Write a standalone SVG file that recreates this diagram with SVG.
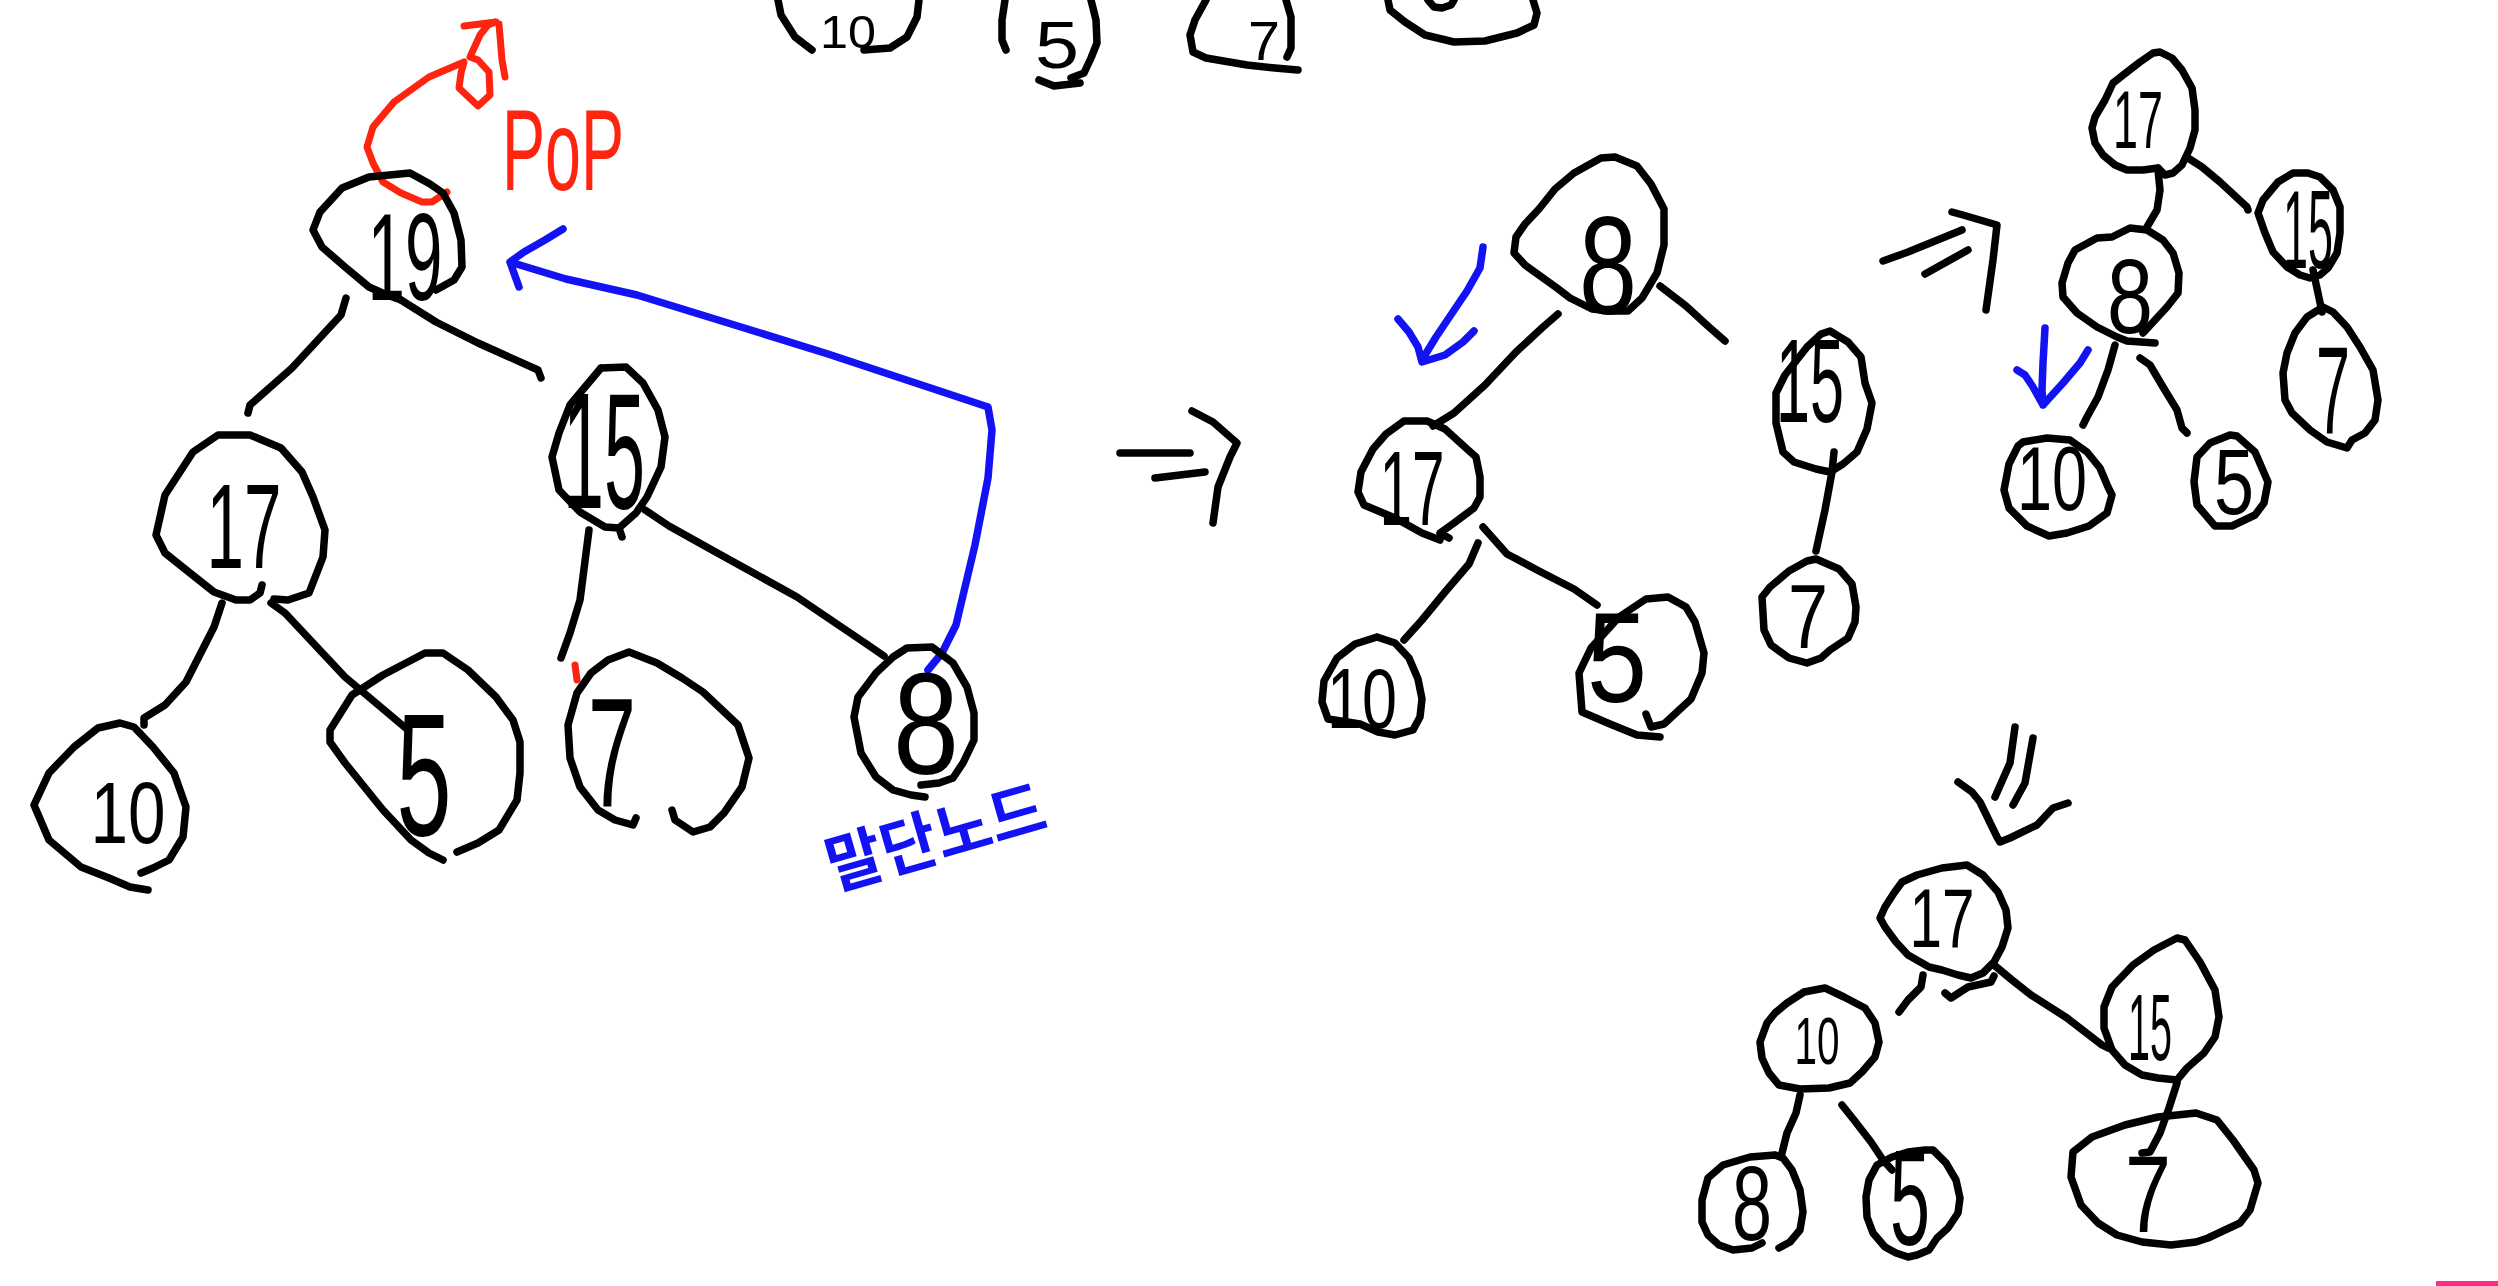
<svg xmlns="http://www.w3.org/2000/svg" width="2498" height="1286" viewBox="0 0 2498 1286">
<style>
.k{fill:none;stroke:#000;stroke-width:7.5;stroke-linecap:round;stroke-linejoin:round}
.b{fill:none;stroke:#1212f5;stroke-width:7.5;stroke-linecap:round;stroke-linejoin:round}
.r{fill:none;stroke:#ff2410;stroke-width:7;stroke-linecap:round;stroke-linejoin:round}
.t{font-family:"Liberation Sans","DejaVu Sans",sans-serif;fill:#000;text-anchor:middle}
</style>
<rect width="2498" height="1286" fill="#fff"/>
<!-- top partial nodes -->
<g id="top-10"><path class="k" d="M778,0 L781,15 L795,37 L812,50 M919,0 L917,17 L907,37 L890,48 L864,50"/><text class="t" x="848" y="48" font-size="46" textLength="56" lengthAdjust="spacingAndGlyphs">10</text></g>
<g id="top-5"><path class="k" d="M1005,0 L1002,20 L1002,40 L1006,50 M1091,0 L1096,20 L1097,43 L1091,58 L1084,73 L1071,78 M1039,80 L1054,86 L1080,83"/><text class="t" x="1057" y="68" font-size="66" textLength="44" lengthAdjust="spacingAndGlyphs">5</text></g>
<g id="top-7"><path class="k" d="M1206,0 L1195,20 L1190,35 L1193,52 L1206,58 L1247,65 L1275,68 L1298,70 M1286,0 L1291,17 L1291,48 L1287,57"/><text class="t" x="1264" y="60" font-size="56" textLength="32" lengthAdjust="spacingAndGlyphs">7</text></g>
<g id="top-4"><path class="k" d="M1388,0 L1390,10 L1405,22 L1425,35 L1454,42 L1485,41 L1517,33 L1534,25 L1537,13 L1533,0 M1428,0 L1434,7 L1442,8 L1451,5 L1454,0"/></g>

<!-- connectors -->
<g id="connectors">
<path class="k" d="M401,300 L436,322 L478,343 L538,370 L541,378"/>
<path class="k" d="M346,298 L341,315 L292,368 L250,405 L248,413"/>
<path class="k" d="M222,603 L214,627 L186,682 L165,705 L144,718 L144,725"/>
<path class="k" d="M271,603 L285,613 L345,677 L408,730"/>
<path class="k" d="M645,510 L669,526 L712,550 L797,597 L868,645 L884,656"/>
<path class="k" d="M589,530 L580,600 L570,633 L561,658"/>
<path class="k" d="M1558,314 L1543,327 L1516,352 L1485,385 L1454,413 L1433,426"/>
<path class="k" d="M1660,286 L1686,306 L1709,327 L1725,341"/>
<path class="k" d="M1478,543 L1469,564 L1445,592 L1422,620 L1404,640"/>
<path class="k" d="M1483,527 L1507,554 L1539,571 L1574,589 L1597,605"/>
<path class="k" d="M1834,452 L1832,472 L1825,510 L1816,551"/>
<path class="k" d="M2158,170 L2160,190 L2157,210 L2147,227"/>
<path class="k" d="M2188,158 L2202,167 L2220,182 L2247,207 L2248,210"/>
<path class="k" d="M2115,345 L2108,370 L2098,397 L2087,417 L2083,425"/>
<path class="k" d="M2140,358 L2150,365 L2163,387 L2177,410 L2182,428 L2187,433"/>
<path class="k" d="M2313,270 L2318,293 L2322,312"/>
<path class="k" d="M1923,975 L1921,987 L1908,1000 L1899,1012"/>
<path class="k" d="M1994,965 L2012,980 L2031,995 L2067,1018 L2102,1045 L2108,1048"/>
<path class="k" d="M1800,1095 L1796,1113 L1787,1133 L1782,1153"/>
<path class="k" d="M1842,1105 L1854,1120 L1871,1142 L1883,1160 L1892,1170"/>
<path class="k" d="M2177,1083 L2169,1108 L2160,1133 L2150,1152 L2142,1153"/>
<!-- transition arrows -->
<path class="k" d="M1120,453 L1190,453 M1155,478 L1205,472 M1192,411 L1213,422 L1237,443 L1230,457 L1218,487 L1213,523"/>
<path class="k" d="M1883,261 L1908,252 L1962,230 M1925,274 L1968,250 M1952,212 L1963,215 L1997,225 L1993,260 L1986,310"/>
<path class="k" d="M2015,727 L2010,763 L1995,797 M2033,738 L2025,783 L2013,805 M1958,782 L1972,792 L1980,802 L1997,837 L2000,842 L2010,838 L2037,825 L2053,808 L2068,803"/>
<!-- red pop arrow -->
<path class="r" d="M447,192 L432,202 L422,202 L401,193 L383,182 L373,163 L367,147 L373,127 L394,102 L429,77 L464,62 L461,73 L459,88 L478,106 L490,95 L489,72 L478,60 L470,57 L480,35 L488,25 L495,22 M464,26 L496,22 M499,24 L502,60 L505,77"/>
<path class="r" d="M575,665 L577,680"/>
<!-- blue swap line -->
<path class="b" d="M928,670 L942,653 L956,625 L975,545 L988,478 L992,430 L988,407 L828,354 L741,327 L637,295 L566,279 L510,262 M563,229 L545,240 L524,252 L510,262 L519,287"/>
<path class="b" d="M1483,247 L1480,268 L1467,291 L1436,337 L1422,360 M1398,319 L1409,332 L1418,347 L1422,362 L1445,355 L1463,342 L1474,331"/>
<path class="b" d="M2045,328 L2043,363 L2042,390 L2043,405 M2017,370 L2025,375 L2033,387 L2043,405 L2063,383 L2080,363 L2088,350"/>
</g>

<!-- labels -->
<text x="502" y="190" font-family="Liberation Sans, sans-serif" font-size="115" fill="#ff2410" textLength="122" lengthAdjust="spacingAndGlyphs">PoP</text>
<text transform="translate(834,890) rotate(-16)" font-family="Noto Sans CJK KR, sans-serif" font-size="64" font-weight="bold" fill="#1212f5" textLength="225" lengthAdjust="spacingAndGlyphs">말단노드</text>

<!-- left tree -->
<g id="L19"><path class="k" d="M436,290 L454,280 L462,267 L461,240 L454,213 L443,193 L430,184 L410,173 L369,177 L342,188 L320,212 L313,230 L322,247 L345,267 L369,287 L387,295 L401,300"/><text class="t" x="405" y="300" font-size="125" textLength="75" lengthAdjust="spacingAndGlyphs">19</text></g>
<g id="L17"><path class="k" d="M274,599 L288,600 L309,593 L323,557 L325,530 L313,497 L302,472 L281,448 L250,435 L218,435 L193,452 L165,495 L156,535 L165,553 L190,573 L214,592 L236,600 L250,600 L260,593 L262,585"/><text class="t" x="244" y="568" font-size="120" textLength="75" lengthAdjust="spacingAndGlyphs">17</text></g>
<g id="L10"><path class="k" d="M141,873 L153,868 L169,860 L183,837 L186,807 L174,773 L153,747 L134,727 L120,723 L98,728 L74,747 L49,773 L34,805 L49,840 L81,867 L109,878 L130,887 L148,890"/><text class="t" x="128" y="843" font-size="88" textLength="75" lengthAdjust="spacingAndGlyphs">10</text></g>
<g id="L5"><path class="k" d="M443,860 L429,853 L411,840 L383,810 L345,763 L330,742 L330,730 L352,695 L383,675 L425,653 L443,653 L468,670 L496,697 L513,720 L520,742 L520,773 L517,800 L499,830 L478,843 L457,852"/><text class="t" x="424" y="835" font-size="175" textLength="55" lengthAdjust="spacingAndGlyphs">5</text></g>
<g id="L15"><path class="k" d="M601,368 L626,367 L643,383 L658,410 L665,437 L661,467 L647,497 L636,513 L619,528 L622,537 M619,528 L605,527 L580,512 L559,490 L552,457 L559,433 L570,405 L580,393 L601,368"/><text class="t" x="604" y="508" font-size="165" textLength="82" lengthAdjust="spacingAndGlyphs">15</text></g>
<g id="L7"><path class="k" d="M636,818 L633,825 L615,820 L598,810 L580,787 L570,758 L568,725 L577,693 L591,673 L608,660 L629,652 L657,663 L682,678 L703,692 L738,725 L749,758 L742,787 L724,813 L710,827 L693,832 L675,820 L672,810"/><text class="t" x="612" y="807" font-size="155" textLength="48" lengthAdjust="spacingAndGlyphs">7</text></g>
<g id="L8"><path class="k" d="M925,797 L911,795 L893,790 L876,777 L861,753 L854,717 L858,697 L876,673 L893,657 L907,648 L932,647 L953,663 L967,687 L974,713 L974,740 L963,763 L953,778 L939,783 L921,785"/><text class="t" x="926" y="774" font-size="145" textLength="66" lengthAdjust="spacingAndGlyphs">8</text></g>

<!-- middle tree -->
<g id="M8"><path class="k" d="M1570,298 L1592,309 L1610,311 L1628,311 L1642,298 L1657,273 L1664,245 L1664,209 L1651,184 L1637,166 L1615,157 L1601,158 L1574,173 L1555,189 L1539,209 L1525,224 L1516,237 L1514,253 L1525,265 L1557,288 L1570,298"/><text class="t" x="1608" y="314" font-size="140" textLength="58" lengthAdjust="spacingAndGlyphs">8</text></g>
<g id="M17"><path class="k" d="M1449,538 L1440,533 L1454,523 L1474,508 L1480,497 L1480,477 L1476,457 L1467,449 L1445,429 L1427,421 L1404,421 L1386,434 L1373,449 L1361,472 L1358,492 L1364,505 L1395,518 L1422,533 L1440,540"/><text class="t" x="1412" y="525" font-size="105" textLength="65" lengthAdjust="spacingAndGlyphs">17</text></g>
<g id="M10"><path class="k" d="M1377,637 L1395,643 L1409,658 L1418,679 L1422,699 L1420,717 L1413,730 L1395,735 L1378,732 L1360,724 L1328,719 L1322,702 L1324,681 L1337,658 L1355,644 L1377,637"/><text class="t" x="1362" y="728" font-size="86" textLength="70" lengthAdjust="spacingAndGlyphs">10</text></g>
<g id="M5"><path class="k" d="M1646,714 L1651,727 L1664,724 L1677,712 L1691,699 L1702,673 L1704,653 L1695,622 L1686,607 L1668,597 L1646,599 L1619,617 L1591,648 L1579,673 L1582,712 L1610,724 L1637,735 L1660,737"/><text class="t" x="1617" y="702" font-size="128" textLength="60" lengthAdjust="spacingAndGlyphs">5</text></g>
<g id="M15"><path class="k" d="M1830,331 L1848,342 L1861,357 L1865,383 L1872,403 L1867,429 L1857,452 L1843,464 L1830,472 L1816,469 L1794,462 L1783,452 L1776,423 L1776,393 L1785,375 L1807,347 L1821,334 Z"/><text class="t" x="1810" y="422" font-size="118" textLength="68" lengthAdjust="spacingAndGlyphs">15</text></g>
<g id="M7"><path class="k" d="M1816,559 L1839,569 L1852,584 L1856,607 L1855,622 L1848,638 L1830,650 L1821,658 L1807,663 L1789,658 L1771,645 L1764,630 L1762,597 L1770,587 L1789,571 L1807,561 Z"/><text class="t" x="1808" y="648" font-size="90" textLength="40" lengthAdjust="spacingAndGlyphs">7</text></g>

<!-- right tree -->
<g id="R17"><path class="k" d="M2158,168 L2143,170 L2127,170 L2115,165 L2103,155 L2095,143 L2092,128 L2095,117 L2105,100 L2113,83 L2127,72 L2140,62 L2153,53 L2160,52 L2172,58 L2182,70 L2192,88 L2195,110 L2195,130 L2190,148 L2182,165 L2173,173 L2165,175 L2158,168"/><text class="t" x="2138" y="148" font-size="82" textLength="50" lengthAdjust="spacingAndGlyphs">17</text></g>
<g id="R8"><path class="k" d="M2143,333 L2155,320 L2167,307 L2178,293 L2179,273 L2173,253 L2163,240 L2147,230 L2130,228 L2112,237 L2097,238 L2075,250 L2068,263 L2062,283 L2063,297 L2077,313 L2097,327 L2117,337 L2127,341 L2155,343"/><text class="t" x="2130" y="333" font-size="105" textLength="46" lengthAdjust="spacingAndGlyphs">8</text></g>
<g id="R10"><path class="k" d="M2023,442 L2047,438 L2070,440 L2087,452 L2100,468 L2108,487 L2112,495 L2107,513 L2089,526 L2067,533 L2049,536 L2027,526 L2009,508 L2004,490 L2009,464 L2018,446 Z"/><text class="t" x="2052" y="510" font-size="90" textLength="70" lengthAdjust="spacingAndGlyphs">10</text></g>
<g id="R5"><path class="k" d="M2230,435 L2237,436 L2255,452 L2268,482 L2264,503 L2255,515 L2232,526 L2215,526 L2197,505 L2194,482 L2197,457 L2210,443 Z"/><text class="t" x="2234" y="514" font-size="92" textLength="40" lengthAdjust="spacingAndGlyphs">5</text></g>
<g id="R15"><path class="k" d="M2308,173 L2320,177 L2333,190 L2340,207 L2340,233 L2337,253 L2328,268 L2320,275 L2310,278 L2300,275 L2287,267 L2273,252 L2265,233 L2258,213 L2263,200 L2278,182 L2293,173 Z"/><text class="t" x="2308" y="268" font-size="112" textLength="50" lengthAdjust="spacingAndGlyphs">15</text></g>
<g id="R7"><path class="k" d="M2323,307 L2333,312 L2347,327 L2360,347 L2373,370 L2378,400 L2375,420 L2365,433 L2352,440 L2347,448 L2327,442 L2310,430 L2292,413 L2285,400 L2283,373 L2287,353 L2295,333 L2307,317 Z"/><text class="t" x="2333" y="433" font-size="125" textLength="34" lengthAdjust="spacingAndGlyphs">7</text></g>

<!-- bottom tree -->
<g id="B17"><path class="k" d="M1902,882 L1917,875 L1942,868 L1967,865 L1983,875 L1998,892 L2006,910 L2008,928 L2002,947 L1994,962 L1983,973 L1971,978 L1958,975 L1942,970 L1929,967 L1908,955 L1896,942 L1885,927 L1880,918 L1885,907 L1894,893 Z M1945,993 L1951,998 L1968,987 L1991,982 L1994,976"/><text class="t" x="1942" y="947" font-size="84" textLength="65" lengthAdjust="spacingAndGlyphs">17</text></g>
<g id="B10"><path class="k" d="M1787,1003 L1804,992 L1825,988 L1844,997 L1865,1008 L1875,1023 L1879,1042 L1875,1057 L1862,1072 L1850,1083 L1829,1088 L1800,1089 L1779,1085 L1769,1073 L1762,1058 L1760,1042 L1767,1023 L1775,1013 Z"/><text class="t" x="1817" y="1064" font-size="66" textLength="45" lengthAdjust="spacingAndGlyphs">10</text></g>
<g id="B15"><path class="k" d="M2177,938 L2185,940 L2200,962 L2215,990 L2219,1017 L2215,1037 L2204,1053 L2187,1068 L2177,1080 L2158,1078 L2142,1075 L2125,1065 L2112,1050 L2104,1028 L2104,1007 L2112,987 L2133,965 L2154,950 Z"/><text class="t" x="2150" y="1060" font-size="95" textLength="44" lengthAdjust="spacingAndGlyphs">15</text></g>
<g id="B8"><path class="k" d="M1775,1155 L1750,1157 L1723,1165 L1708,1178 L1702,1200 L1702,1222 L1708,1235 L1719,1245 L1733,1250 L1752,1248 L1762,1243 M1775,1155 L1783,1158 L1792,1170 L1800,1190 L1803,1212 L1800,1230 L1790,1242 L1779,1248"/><text class="t" x="1752" y="1240" font-size="105" textLength="40" lengthAdjust="spacingAndGlyphs">8</text></g>
<g id="B5"><path class="k" d="M1925,1150 L1933,1150 L1946,1163 L1956,1180 L1960,1198 L1958,1213 L1948,1228 L1937,1238 L1929,1250 L1917,1255 L1908,1257 L1896,1253 L1885,1247 L1873,1233 L1867,1217 L1866,1197 L1869,1180 L1877,1165 L1892,1157 L1908,1152 Z"/><text class="t" x="1910" y="1245" font-size="135" textLength="40" lengthAdjust="spacingAndGlyphs">5</text></g>
<g id="B7"><path class="k" d="M2092,1137 L2125,1125 L2158,1117 L2196,1113 L2217,1120 L2233,1140 L2254,1170 L2258,1183 L2250,1210 L2240,1223 L2225,1230 L2208,1238 L2196,1242 L2171,1245 L2142,1242 L2117,1235 L2098,1223 L2081,1205 L2071,1177 L2073,1152 Z"/><text class="t" x="2148" y="1232" font-size="110" textLength="46" lengthAdjust="spacingAndGlyphs">7</text></g>

<rect x="2436" y="1281" width="62" height="5" fill="#ff2a8a"/>
</svg>
